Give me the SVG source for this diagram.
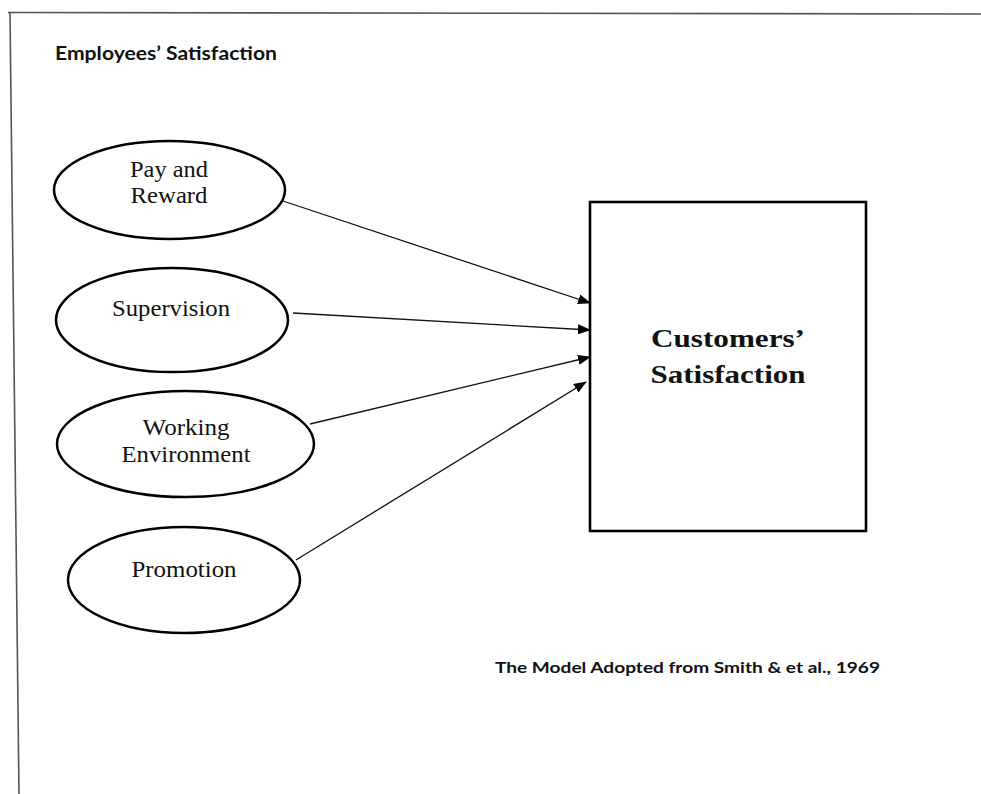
<svg xmlns="http://www.w3.org/2000/svg" width="981" height="794" viewBox="0 0 981 794">
<style>
.frame{stroke:#555;stroke-width:1.6;fill:none}
.oval{fill:#fff;stroke:#000;stroke-width:2.5}
.box{fill:#fff;stroke:#000;stroke-width:2.6}
.lbl{font-family:"Liberation Serif","Times New Roman",serif;font-size:23px;fill:#111;text-anchor:middle}
.big{font-family:"Liberation Serif","Times New Roman",serif;font-size:26px;font-weight:bold;fill:#111;text-anchor:middle}
.sans{font-family:Lato,"Liberation Sans",sans-serif;font-weight:bold;fill:#111}
.conn{stroke:#111;stroke-width:1.3;fill:none}
</style>
<defs>
<marker id="arr" markerWidth="13" markerHeight="10" refX="12" refY="5" orient="auto" markerUnits="userSpaceOnUse">
<path d="M0,0 L13,5 L0,10 Z" fill="#000"/>
</marker>
</defs>
<rect width="981" height="794" fill="#fff"/>
<g id="frame">
<line class="frame" x1="8" y1="12.5" x2="981" y2="14"/>
<line class="frame" x1="10" y1="12.5" x2="19" y2="794"/>
</g>
<text class="sans" x="55" y="60" font-size="18" textLength="222" lengthAdjust="spacingAndGlyphs">Employees’ Satisfaction</text>
<g id="connectors">
<line class="conn" x1="283" y1="201" x2="590" y2="303" marker-end="url(#arr)"/>
<line class="conn" x1="293" y1="313" x2="590" y2="330" marker-end="url(#arr)"/>
<line class="conn" x1="310" y1="424" x2="590" y2="357" marker-end="url(#arr)"/>
<line class="conn" x1="296" y1="560" x2="586" y2="382" marker-end="url(#arr)"/>
</g>
<g id="pay-reward">
<ellipse class="oval" cx="169.5" cy="190" rx="115.5" ry="49"/>
<text class="lbl" x="169" y="177" textLength="78" lengthAdjust="spacingAndGlyphs">Pay and</text>
<text class="lbl" x="169" y="203" textLength="77" lengthAdjust="spacingAndGlyphs">Reward</text>
</g>
<g id="supervision">
<ellipse class="oval" cx="172" cy="320" rx="116" ry="52"/>
<text class="lbl" x="171" y="316" textLength="118" lengthAdjust="spacingAndGlyphs">Supervision</text>
</g>
<g id="working-environment">
<ellipse class="oval" cx="185.5" cy="444" rx="128.5" ry="53"/>
<text class="lbl" x="186" y="435" textLength="87" lengthAdjust="spacingAndGlyphs">Working</text>
<text class="lbl" x="186" y="462" textLength="129" lengthAdjust="spacingAndGlyphs">Environment</text>
</g>
<g id="promotion">
<ellipse class="oval" cx="184" cy="580" rx="116" ry="53"/>
<text class="lbl" x="184" y="577" textLength="105" lengthAdjust="spacingAndGlyphs">Promotion</text>
</g>
<g id="customers-satisfaction">
<rect class="box" x="590" y="202" width="276" height="329"/>
<text class="big" x="728" y="347" textLength="154" lengthAdjust="spacingAndGlyphs">Customers’</text>
<text class="big" x="728" y="383" textLength="155" lengthAdjust="spacingAndGlyphs">Satisfaction</text>
</g>
<text class="sans" x="495" y="673" font-size="16" textLength="385" lengthAdjust="spacingAndGlyphs">The Model Adopted from Smith &amp; et al., 1969</text>
</svg>
